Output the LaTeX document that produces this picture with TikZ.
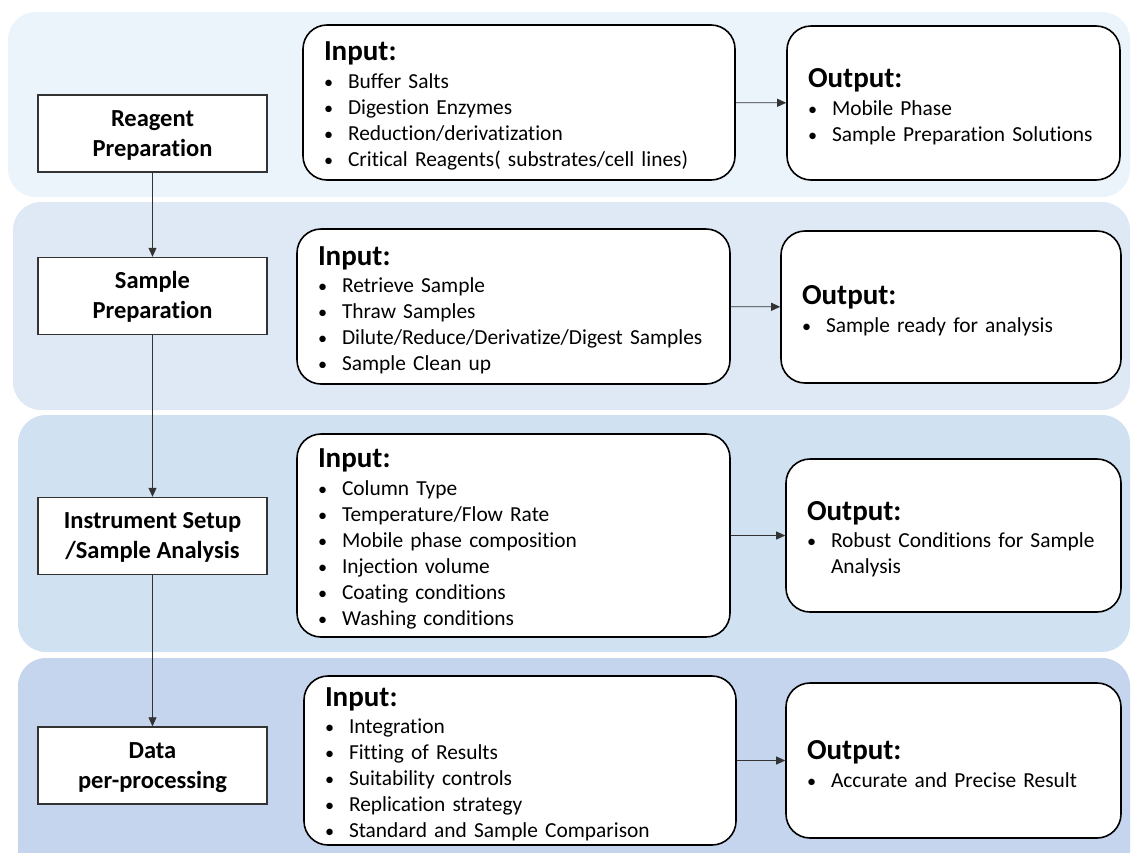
\documentclass[tikz,border=0pt]{standalone}
\usepackage{fontspec}
\setmainfont{Carlito}[Ligatures={NoCommon,NoRare}]
\usetikzlibrary{arrows.meta}
\definecolor{bandA}{HTML}{EBF3FB}
\definecolor{bandB}{HTML}{DEE9F5}
\definecolor{bandC}{HTML}{D0E1F2}
\definecolor{bandD}{HTML}{C6D5EE}
\newcommand{\hd}[1]{{\fontsize{29}{30}\selectfont\bfseries\rule{0pt}{26pt}#1}\\[1.5pt]}
\newcommand{\bl}[1]{\makebox[24pt][l]{\scalebox{0.85}{•}}#1}
\newcommand{\st}{\rule{0pt}{19.5pt}}
\tikzset{
  x=1pt, y=-1pt,
  band/.style={rounded corners=28pt, draw=none},
  stepbox/.style={draw=black!80, line width=1.4pt, fill=white, minimum width=229pt, minimum height=77pt, align=center, font=\fontsize{24.5}{30}\selectfont\bfseries, inner sep=0pt},
  ibox/.style={draw=black, line width=1.6pt, fill=white, rounded corners=24pt, inner xsep=21pt, inner ysep=0pt, align=left, font=\fontsize{21.4}{26}\selectfont},
  conn/.style={line width=0.8pt, draw=black!80, -{Triangle[length=9pt,width=8pt]}},
}
\begin{document}
\begin{tikzpicture}
\useasboundingbox (0,0) rectangle (1131,852);
\clip (0,0) rectangle (1131,852);
\fill[white] (0,0) rectangle (1131,852);
% bands
\fill[bandA, band] (8,12) rectangle (1130,197);
\fill[bandB, band] (13,202) rectangle (1130,410);
\fill[bandC, band] (18,415) rectangle (1130,652);
\fill[bandD, band] (18,658) rectangle (1130,890);
% left step boxes
\node[stepbox] (s1) at (152.5,133.5) {\st Reagent\\Preparation};
\node[stepbox] (s2) at (152.5,296) {\st Sample\\Preparation};
\node[stepbox] (s3) at (152.5,536) {\st Instrument Setup\\/Sample Analysis};
\node[stepbox] (s4) at (152.5,765.5) {\st Data\\per-processing};
% input boxes
\node[ibox, text width=390pt, minimum height=155pt] (i1) at (519,102.5) {\hd{Input:}\bl{Buffer Salts}\\\bl{Digestion Enzymes}\\\bl{Reduction/derivatization}\\\bl{Critical Reagents( substrates/cell lines)}};
\node[ibox, text width=291pt, minimum height=154pt] (o1) at (953.5,103) {\hd{Output:}\bl{Mobile Phase}\\\bl{Sample Preparation Solutions}};
\node[ibox, text width=391pt, minimum height=155pt] (i2) at (513.5,306.5) {\hd{Input:}\bl{Retrieve Sample}\\\bl{Thraw Samples}\\\bl{Dilute/Reduce/Derivatize/Digest Samples}\\\bl{Sample Clean up}};
\node[ibox, text width=298pt, minimum height=152pt] (o2) at (951,307) {\hd{Output:}\bl{Sample ready for analysis}};
\node[ibox, text width=391pt, minimum height=203pt] (i3) at (513.5,535.5) {\hd{Input:}\bl{Column Type}\\\bl{Temperature/Flow Rate}\\\bl{Mobile phase composition}\\\bl{Injection volume}\\\bl{Coating conditions}\\\bl{Washing conditions}};
\node[ibox, text width=293pt, minimum height=153pt] (o3) at (953.5,535.5) {\hd{Output:}\bl{Robust Conditions for Sample}\\\hspace*{24pt}Analysis};
\node[ibox, text width=390pt, minimum height=169pt] (i4) at (520,760.5) {\hd{Input:}\bl{Integration}\\\bl{Fitting of Results}\\\bl{Suitability controls}\\\bl{Replication strategy}\\\bl{Standard and Sample Comparison}};
\node[ibox, text width=293pt, minimum height=155pt] (o4) at (953.5,760.5) {\hd{Output:}\bl{Accurate and Precise Result}};
% connectors
\draw[conn] (s1) -- (s2);
\draw[conn] (s2) -- (s3);
\draw[conn] (s3) -- (s4);
\draw[conn] (i1) -- (o1);
\draw[conn] (i2) -- (o2);
\draw[conn] (i3) -- (o3);
\draw[conn] (i4) -- (o4);
\end{tikzpicture}
\end{document}
